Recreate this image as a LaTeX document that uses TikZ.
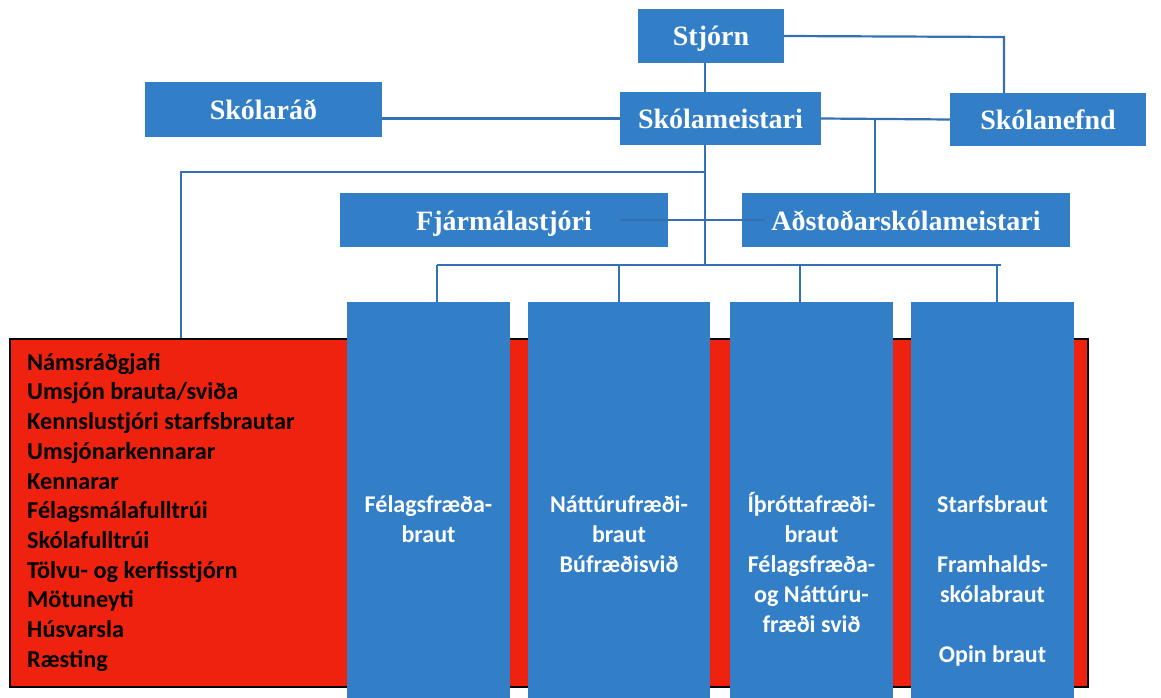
\documentclass[tikz,border=0pt]{standalone}
\usepackage{fontspec}
\setmainfont{Liberation Serif}
\newfontfamily\calfont{Carlito}
\definecolor{boxblue}{RGB}{50,127,200}
\definecolor{lineblue}{RGB}{52,112,180}
\definecolor{staffred}{RGB}{238,34,14}
\begin{document}
\begin{tikzpicture}[x=1pt,y=-1pt,
  topbox/.style={fill=boxblue, text=white, font=\fontsize{28}{30}\selectfont\bfseries, inner sep=0pt, minimum height=54pt, text height=20pt, text depth=0pt},
  colbox/.style={fill=boxblue, inner sep=0pt, minimum height=396pt, anchor=north},
  coltext/.style={text=white, font=\calfont\fontsize{24}{30}\selectfont\bfseries, align=center, inner sep=0pt, anchor=north},
  link/.style={draw=lineblue, line width=2.2pt}]
\useasboundingbox (0,0) rectangle (1161,698);
% staff area
\node[fill=staffred, draw=black, line width=1.5pt, minimum width=1078pt, minimum height=348pt, inner sep=0pt] (staff) at (549,513) {};
\node[anchor=north west, inner sep=0pt, align=left, text=black, font=\calfont\fontsize{24.3}{29.7}\selectfont\bfseries] (stafflist) at (27,348)
 {\rule{0pt}{22pt}Námsráðgjafi\\Umsjón brauta/sviða\\Kennslustjóri starfsbrautar\\Umsjónarkennarar\\Kennarar\\Félagsmálafulltrúi\\Skólafulltrúi\\Tölvu- og kerfisstjórn\\Mötuneyti\\Húsvarsla\\Ræsting};
% top boxes
\node[topbox, minimum width=146pt] (stjorn) at (711,36) {Stjórn};
\node[topbox, minimum width=201pt, minimum height=53pt] (meist) at (720.5,118.5) {Skólameistari};
\node[topbox, minimum width=237pt, minimum height=55pt] (rad) at (263.5,109.5) {Skólaráð};
\node[topbox, minimum width=196pt, minimum height=53pt] (nefnd) at (1048,119.5) {Skólanefnd};
\node[topbox, minimum width=328pt] (fjar) at (504,220) {Fjármálastjóri};
\node[topbox, minimum width=328pt] (adst) at (906,220) {Aðstoðarskólameistari};
% columns
\node[colbox, minimum width=163pt] (col1) at (428.5,302) {};
\node[colbox, minimum width=182pt] (col2) at (619,302) {};
\node[colbox, minimum width=163pt] (col3) at (811.5,302) {};
\node[colbox, minimum width=163pt] (col4) at (992.5,302) {};
\node[coltext] (t1) at ([yshift=-188pt]col1.north) {\rule{0pt}{22pt}Félagsfræða-\\braut};
\node[coltext] (t2) at ([yshift=-188pt]col2.north) {\rule{0pt}{22pt}Náttúrufræði-\\braut\\Búfræðisvið};
\node[coltext] (t3) at ([yshift=-188pt]col3.north) {\rule{0pt}{22pt}Íþróttafræði-\\braut\\Félagsfræða-\\og Náttúru-\\fræði svið};
\node[coltext] (t4) at ([yshift=-188pt]col4.north) {\rule{0pt}{22pt}Starfsbraut\\[30pt]Framhalds-\\skólabraut\\[30pt]Opin braut};
% connectors
\coordinate (jn) at (1004,37);
\coordinate (spine) at (705,172);
\coordinate (bus) at (705,265);
\coordinate (leftc) at (181,172);
\coordinate (aj) at (875,119);
\coordinate (busL) at (437,265);
\coordinate (busR) at (1001,265);
\coordinate (b3) at (800,265);
\coordinate (b4) at (997,265);
\draw[link] (stjorn.east) -- (jn) -- (jn |- nefnd.north);
\draw[link] (stjorn.south -| spine) -- (meist.north -| spine);
\draw[link] (meist.south -| spine) -- (bus);
\draw[link] (spine) -- (leftc) -- (leftc |- staff.north);
\draw[link] (rad.east |- meist.west) -- (meist.west);
\draw[link] (meist.east) -- (nefnd.west);
\draw[link] (aj) -- (aj |- adst.north);
\draw[link] ([xshift=-48pt]fjar.east) -- ([xshift=23pt]adst.west);
\draw[link] (busL) -- (busR);
\draw[link] (busL) -- (busL |- col1.north);
\draw[link] (col2.north |- bus) -- (col2.north);
\draw[link] (b3) -- (b3 |- col3.north);
\draw[link] (b4) -- (b4 |- col4.north);
\end{tikzpicture}
\end{document}
